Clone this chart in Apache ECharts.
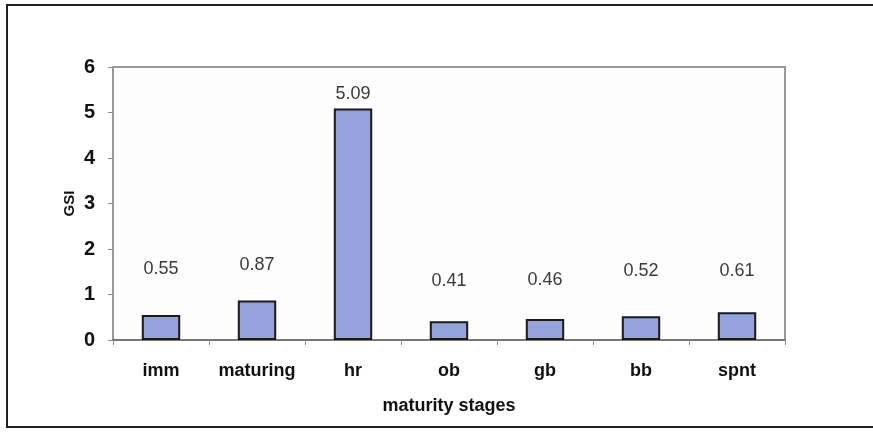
<!DOCTYPE html>
<html>
<head>
<meta charset="utf-8">
<script src="https://cdn.jsdelivr.net/npm/echarts@6/dist/echarts.min.js"></script>
<style>
  html, body { margin: 0; padding: 0; background: #fff; }
  #chart { width: 873px; height: 433px; }
</style>
</head>
<body>
<div id="chart"></div>
<script>
// maturity stages and mean GSI
const stages = ['imm', 'maturing', 'hr', 'ob', 'gb', 'bb', 'spnt']
const gsi = [0.55, 0.87, 5.09, 0.41, 0.46, 0.52, 0.61]
const yTicks = [0, 1, 2, 3, 4, 5, 6]

// labels were dragged around by hand in the original, gap above each bar (px)
const labelGap = [37, 26, 5, 31, 30, 36, 32]

let myChart = echarts.init(document.getElementById('chart'))

let option = {
    backgroundColor: '#fff',
    textStyle: { fontFamily: 'Liberation Sans, Arial, sans-serif' },
    graphic: [{
        type: 'rect',
        shape: { x: 7, y: 5, width: 880, height: 422 },
        style: { fill: 'none', stroke: '#222', lineWidth: 2 },
        silent: true
    }],
    grid: {
        left: 113,
        right: 88,
        top: 67,
        bottom: 93,
        show: true,
        backgroundColor: '#fdfdfd',
        borderColor: '#999',
        borderWidth: 2
    },
    xAxis: {
        type: 'category',
        data: stages,
        name: 'maturity stages',
        nameLocation: 'middle',
        nameGap: 57,
        nameMoveOverlap: false,
        nameTextStyle: { fontWeight: 'bold', fontSize: 18, color: '#111' },
        axisLine: { lineStyle: { color: '#777', width: 2 } },
        axisTick: { show: true, length: 5, lineStyle: { color: '#888' } },
        axisLabel: { interval: 0, fontWeight: 'bold', fontSize: 18, color: '#111', margin: 22 }
    },
    yAxis: {
        type: 'value',
        min: yTicks[0],
        max: yTicks[yTicks.length - 1],
        interval: 1,
        name: 'GSI',
        nameLocation: 'middle',
        nameGap: 36,
        nameMoveOverlap: false,
        nameTextStyle: { fontWeight: 'bold', fontSize: 15, color: '#111' },
        splitLine: { show: false },
        axisLine: { show: true, lineStyle: { color: '#999', width: 2 } },
        axisTick: { show: true, length: 5, lineStyle: { color: '#888' } },
        axisLabel: { fontWeight: 'bold', fontSize: 20, color: '#111', margin: 18 }
    },
    series: [{
        name: 'GSI',
        type: 'bar',
        barWidth: '40%',
        data: gsi.map((v, i) => ({
            value: v,
            label: { distance: labelGap[i] }
        })),
        itemStyle: {
            color: '#94a3dc',
            borderColor: '#1a1a1a',
            borderWidth: 2
        },
        label: {
            show: true,
            position: 'top',
            fontSize: 18,
            color: '#3a3a3a',
            formatter: p => p.value.toFixed(2)
        }
    }]
}

myChart.setOption(option)
</script>
</body>
</html>
